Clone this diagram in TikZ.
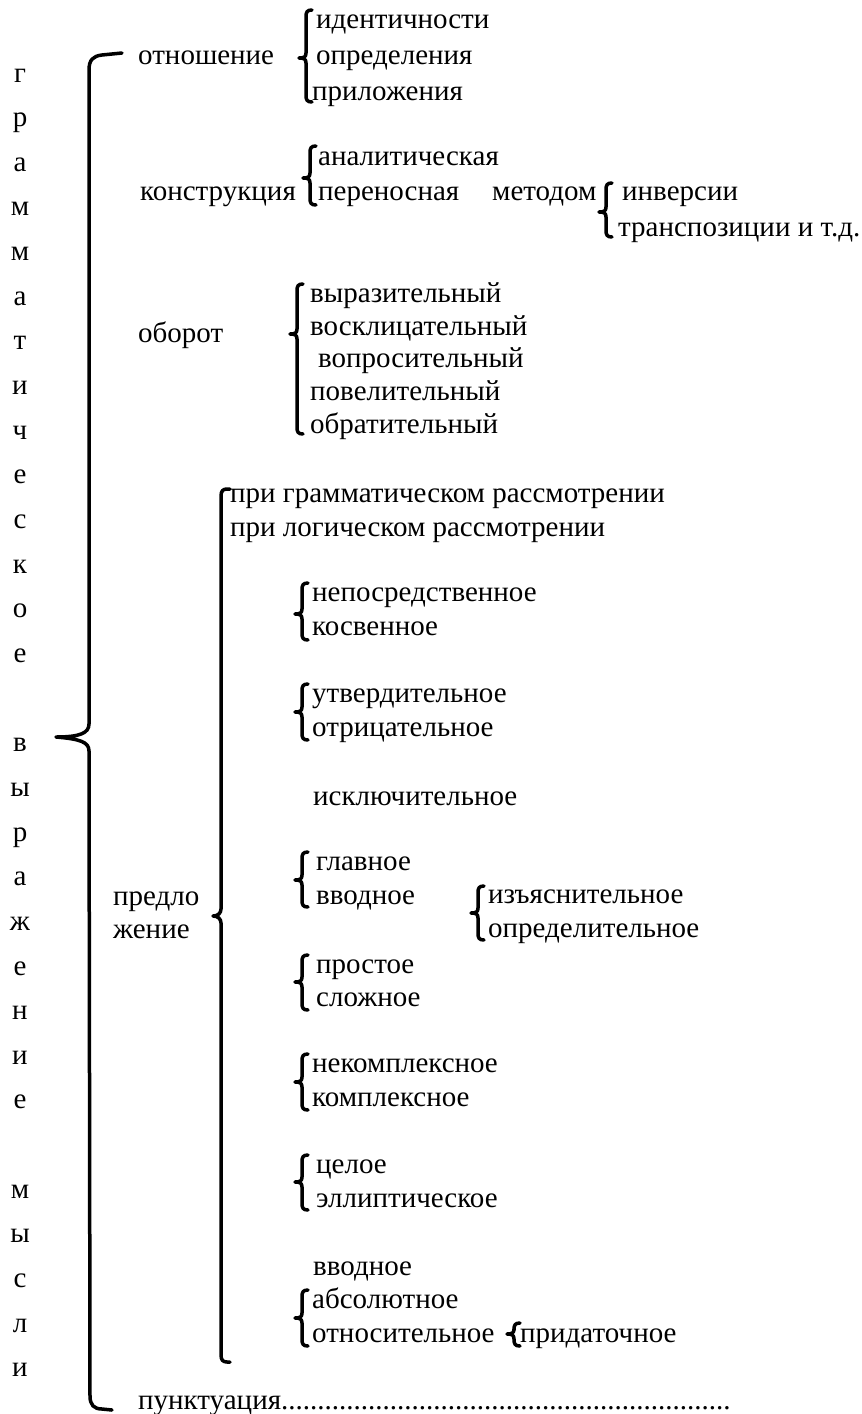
\documentclass[tikz,border=0pt]{standalone}
\usepackage{fontspec}
\setmainfont{Liberation Serif}
\usetikzlibrary{positioning}
\tikzset{
  x=1pt, y=-1pt,
  lbl/.style={
      anchor=base west,
      yshift=-7pt,
      inner sep=0pt,
      font=\fontsize{29}{34}\selectfont
    },
  ltr/.style={
      anchor=base,
      yshift=-7pt,
      inner sep=0pt,
      font=\fontsize{29}{34}\selectfont
    },
  brc/.style={
      line width=3.5pt,
      line cap=round,
      line join=round
    }
}
% small curly bracket: x, top, bottom, tip
\newcommand{\curly}[4]{%
  \draw[brc] (#1+6,#2) .. controls (#1+1,#2) and (#1,#2+2) .. (#1,#2+7)
    -- (#1,#4-5) .. controls (#1,#4-1) and (#1-2,#4) .. (#1-7,#4)
    .. controls (#1-2,#4) and (#1,#4+1) .. (#1,#4+5)
    -- (#1,#3-7) .. controls (#1,#3-2) and (#1+1,#3) .. (#1+6,#3);}
\begin{document}
\begin{tikzpicture}
  \useasboundingbox (0,0) rectangle (862,1414);
  % vertical title
  \foreach \l/\r in {г/0,р/1,а/2,м/3,м/4,а/5,т/6,и/7,ч/8,е/9,с/10,к/11,о/12,е/13,
      в/15,ы/16,р/17,а/18,ж/19,е/20,н/21,и/22,е/23,м/25,ы/26,с/27,л/28,и/29}
    \node[ltr] (v\r) at (20,75+44.65*\r) {\l};
  % main bracket
  \draw[brc] (122,53) -- (102,55) .. controls (93,56) and (89,60) .. (89,70)
    -- (89,724) .. controls (89,733) and (80,737) .. (56,737)
    .. controls (80,739) and (89,742) .. (89,751)
    -- (90,1396) .. controls (90,1405) and (94,1409) .. (102,1409) -- (112,1410);

  \node[lbl] (otnosh) at (138,57) {отношение};
  \node[lbl] (ident) at (316,21) {идентичности};
  \node[lbl] (opred) at (316,57) {определения};
  \node[lbl] (prilozh) at (312,93) {приложения};
  \curly{306}{10}{102}{58}

  \node[lbl] (konstr) at (140,193) {конструкция};
  \node[lbl] (analit) at (318,158) {аналитическая};
  \node[lbl] (perenos) at (318,193) {переносная};
  \curly{310}{146}{205}{178}
  \node[lbl] (metod) at (492,193) {методом};
  \node[lbl] (inv) at (622,193) {инверсии};
  \node[lbl] (transp) at (618,229) {транспозиции и т.д.};
  \curly{606}{183}{237}{212}

  \node[lbl] (oborot) at (138,335) {оборот};
  \node[lbl] (vyraz) at (310,295) {выразительный};
  \node[lbl] (voskl) at (310,328) {восклицательный};
  \node[lbl] (vopros) at (318,360) {вопросительный};
  \node[lbl] (povel) at (310,393) {повелительный};
  \node[lbl] (obrat) at (310,426) {обратительный};
  \curly{297}{284}{434}{334}

  \node[lbl] (predlo) at (113,898) {предло};
  \node[lbl] (zhenie) at (113,931) {жение};
  \draw[brc] (230,489) -- (227,489) .. controls (223,489) and (221,491) .. (221,496)
    -- (221,909) .. controls (221,913) and (218,916) .. (213,916)
    .. controls (218,916) and (221,919) .. (221,923)
    -- (221,1355) .. controls (221,1360) and (223,1362) .. (227,1362) -- (230,1362);
  \node[lbl] (gramm) at (230,495) {при грамматическом рассмотрении};
  \node[lbl] (logich) at (230,529) {при логическом рассмотрении};

  \node[lbl] (neposr) at (312,594) {непосредственное};
  \node[lbl] (kosv) at (312,628) {косвенное};
  \curly{302}{583}{640}{614}
  \node[lbl] (utverd) at (312,695) {утвердительное};
  \node[lbl] (otric) at (312,729) {отрицательное};
  \curly{302}{684}{740}{712}
  \node[lbl] (iskl) at (313,798) {исключительное};
  \node[lbl] (glavn) at (316,863) {главное};
  \node[lbl] (vvodn) at (316,897) {вводное};
  \curly{302}{852}{907}{880}
  \node[lbl] (izyasn) at (488,896) {изъяснительное};
  \node[lbl] (opredel) at (488,930) {определительное};
  \curly{478}{886}{940}{913}
  \node[lbl] (prost) at (316,966) {простое};
  \node[lbl] (slozhn) at (316,999) {сложное};
  \curly{302}{955}{1010}{982}
  \node[lbl] (nekompl) at (312,1065) {некомплексное};
  \node[lbl] (kompl) at (312,1099) {комплексное};
  \curly{302}{1054}{1110}{1082}
  \node[lbl] (cel) at (316,1166) {целое};
  \node[lbl] (ellipt) at (316,1200) {эллиптическое};
  \curly{302}{1155}{1210}{1182}
  \node[lbl] (vvodn2) at (313,1268) {вводное};
  \node[lbl] (absol) at (312,1301) {абсолютное};
  \node[lbl] (otnosit) at (312,1335) {относительное};
  \curly{302}{1290}{1346}{1318}
  \node[lbl] (pridat) at (520,1335) {придаточное};
  \curly{514}{1323}{1346}{1334}

  \node[lbl] (punkt) at (138,1402) {пунктуация..............................................................};
\end{tikzpicture}
\end{document}
